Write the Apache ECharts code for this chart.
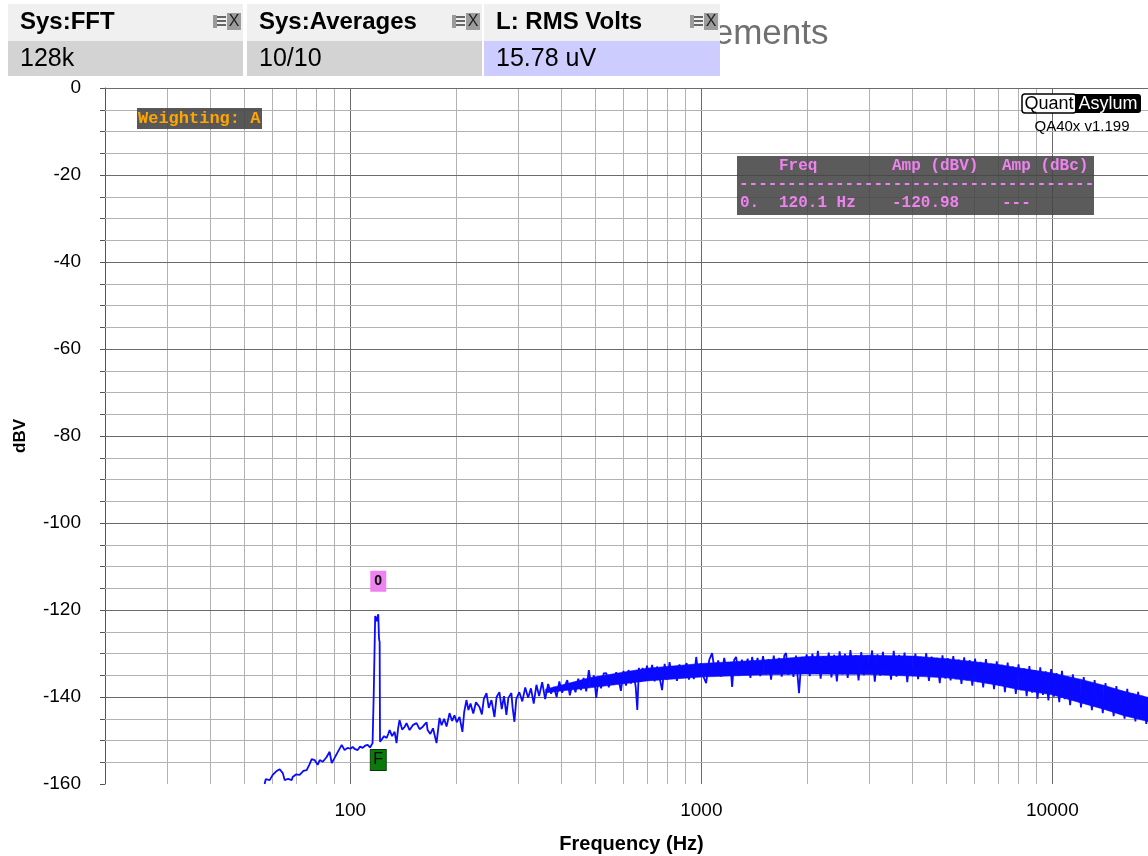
<!DOCTYPE html>
<html>
<head>
<meta charset="utf-8">
<script src="https://cdn.jsdelivr.net/npm/echarts@6/dist/echarts.min.js"></script>
<style>
html,body{margin:0;padding:0;background:#fff;}
#chart{width:1148px;height:856px;}
</style>
</head>
<body>
<div id="chart"></div>
<script>
// Measurement panels shown above the plot
const headerTitles = ['Sys:FFT', 'Sys:Averages', 'L: RMS Volts'];
const headerValues = ['128k', '10/10', '15.78 uV'];

// Marker 0: the 120 Hz hum component
const peakHz = 120.1;
const peakDb = -120.98;

// Frequency axis decorations
const gridMajorHz = [100, 1000, 10000];
const gridMinorHz = [30, 40, 50, 60, 70, 80, 90, 200, 300, 400, 500, 600, 700, 800, 900,
  2000, 3000, 4000, 5000, 6000, 7000, 8000, 9000, 20000];
const xLabelHz = [100, 1000, 10000];

// Averaged A-weighted FFT spectrum [Hz, dBV]
const spectrum = [
  [57.0,-160.0],[57.4,-158.9],[58.9,-159.1],[60.1,-157.9],[61.7,-157.0],[62.9,-156.6],[64.2,-157.5],
  [65.0,-159.1],[66.5,-158.8],[68.1,-159.1],[68.5,-158.4],[70.0,-157.8],[71.7,-157.9],[73.5,-157.0],
  [75.1,-156.8],[76.5,-155.5],[77.6,-154.3],[79.1,-154.5],[80.7,-155.6],[81.8,-154.5],[83.5,-154.9],
  [85.6,-153.8],[87.3,-152.6],[88.5,-155.2],[90.2,-154.0],[92.3,-152.5],[94.5,-151.0],[96.3,-152.2],
  [98.2,-151.7],[100.0,-151.9],[101.5,-151.5],[103.2,-152.0],[104.9,-152.2],[106.6,-151.4],[108.4,-151.7],
  [110.2,-151.2],[112.0,-151.0],[113.8,-151.6],[115.7,-150.6],[116.4,-150.6],[116.6,-139.2],[117.3,-138.8],
  [117.7,-121.4],[118.8,-122.6],[119.5,-121.6],[120.1,-120.98],[120.7,-126.6],[121.2,-127.4],[121.5,-150.3],
  [122.8,-150.3],[124.8,-149.0],[126.9,-149.4],[128.2,-148.5],[129.4,-147.6],[131.5,-149.0],[133.7,-148.0],
  [135.4,-150.6],[136.8,-147.2],[138.1,-145.3],[140.5,-147.5],[142.7,-146.9],[144.6,-146.0],[147.5,-147.6],
  [151.0,-146.4],[154.4,-146.0],[157.5,-147.4],[160.6,-146.9],[162.8,-146.3],[164.9,-145.8],[166.0,-147.6],
  [169,-148.5],[172,-147.2],[176,-150.6],[179.5,-144.8],[182,-146.5],[185,-145.0],[188,-146.8],
  [191.7,-143.7],[195,-145.5],[198,-144.2],[201,-145.8],[204.7,-144.6],[208.6,-148.0],[211,-143.5],
  [214.2,-140.7],[217,-143.0],[220,-141.5],[224,-143.8],[228,-141.2],[233.3,-142.3],[237,-144.0],
  [240,-140.5],[244.3,-139.1],[248,-142.5],[252.4,-140.7],[257.4,-144.6],[261,-140.0],[265.9,-138.9],
  [270,-142.8],[274,-139.8],[278.4,-144.1],[282,-140.2],[287.6,-139.1],[290,-142.5],[293.4,-145.7],
  [297,-140.5],
  [303,-138.9],[309,-141.0],[315,-137.8],[321,-140.2],[327,-138.0],[333,-141.5],[339,-137.2],[345,-139.8],
  [352,-136.6],[359,-140.5],[366,-137.0],[373,-139.2],[380,-137.7],[387,-140.0],[394,-136.4],[401,-139.0],
  [408,-137.5],[415,-136.1],[422,-139.6],[430,-136.8],[438,-138.9],[446,-135.8],[454,-138.4],[462,-135.6],
  [470,-138.7],[478,-133.8],[486,-137.5],[494,-135.0],[502,-140.2],[510,-135.2],[518,-138.0],[527,-134.6],
  [536,-134.5],[545,-137.8],[554,-134.9],[563,-137.2],[572,-134.3],[581,-136.1],[590,-138.6],[600,-134.0],
  [610,-137.4],[620,-133.8],[630,-136.9],[640,-134.2],[650,-137.6],[657,-143.0],[664,-133.3],[672,-136.5],
  [680,-133.3],[690,-136.2],[700,-132.8],
  [712,-135.8],[724,-132.6],[736,-136.4],[748,-133.0],[760,-135.5],[773,-138.4],[786,-132.4],[799,-136.0],
  [812,-132.0],[825,-135.7],[838,-133.1],[852,-136.3],[866,-132.5],[880,-135.4],[894,-133.6],[908,-132.2],
  [922,-136.0],[937,-132.8],[952,-135.9],[967,-130.8],[982,-135.2],[997,-132.3],
  [1010,-135.0],[1032,-136.8],[1053,-131.5],[1073,-129.9],[1095,-134.8],[1117,-131.6],[1139,-135.3],
  [1162,-131.0],[1185,-134.6],[1208,-132.0],[1224,-137.7],[1240,-131.5],[1256,-130.8],[1280,-135.1],
  [1305,-131.4],[1330,-134.9],[1355,-131.2],[1380,-135.6],[1395,-130.8],[1420,-134.3],[1446,-131.0],
  [1472,-135.2],[1499,-130.6],[1526,-134.8],[1553,-131.3],[1580,-136.0],[1608,-130.5],[1636,-134.6],
  [1665,-131.0],[1694,-135.3],[1724,-130.4],[1743,-129.9],[1770,-134.9],[1800,-131.1],[1830,-135.4],
  [1860,-130.5],[1898,-139.1],[1930,-130.8],[1962,-134.7],[1995,-130.2],
  [2036,-135.2],[2072,-130.0],[2110,-134.6],[2148,-129.4],[2187,-135.8],[2226,-130.6],[2266,-134.1],
  [2307,-129.8],[2348,-135.5],[2390,-130.3],[2433,-136.4],[2477,-129.5],[2521,-134.8],[2566,-130.1],
  [2612,-135.6],[2659,-129.2],[2707,-134.3],[2756,-130.4],[2805,-136.2],[2855,-129.7],[2906,-135.0],
  [2958,-130.5],[3011,-134.6],[3065,-129.3],[3120,-136.5],[3176,-130.2],[3233,-135.1],[3291,-129.6],
  [3350,-134.9],[3410,-130.7],[3471,-136.0],[3533,-129.4],[3596,-135.3],[3660,-130.3],[3726,-134.7],
  [3793,-129.8],[3861,-136.6],[3930,-130.6],[4000,-135.2],[4072,-130.0],[4145,-135.9],[4219,-130.8],
  [4295,-134.8],[4372,-129.9],[4450,-136.3],[4530,-130.7],[4611,-135.4],[4694,-131.0],[4778,-136.8],
  [4864,-130.4],[4951,-135.7],[5040,-131.1],
  [5130,-136.2],[5222,-130.6],[5316,-135.9],[5412,-131.4],[5509,-137.0],[5608,-130.9],[5709,-136.1],
  [5812,-131.5],[5917,-137.4],[6023,-131.2],[6131,-136.6],[6241,-131.9],[6353,-137.8],[6467,-131.3],
  [6583,-136.9],[6701,-132.4],[6822,-138.2],[6945,-131.8],[7070,-137.4],[7197,-132.6],[7327,-138.9],
  [7459,-132.1],[7593,-137.9],[7730,-133.0],[7869,-139.3],[8010,-132.5],[8154,-138.4],[8301,-133.4],
  [8450,-139.8],[8602,-132.9],[8757,-139.0],[8915,-133.8],[9075,-140.4],[9238,-133.2],[9404,-139.5],
  [9573,-134.1],[9745,-140.8],[9920,-133.6],[10100,-139.9],
  [10280,-134.5],[10465,-141.2],[10653,-134.0],[10845,-140.5],[11040,-135.3],[11239,-141.9],[11441,-134.8],
  [11647,-140.9],[11857,-136.0],[12070,-142.4],[12287,-135.4],[12508,-141.6],[12733,-136.6],[12962,-143.0],
  [13195,-136.1],[13433,-142.2],[13675,-137.3],[13921,-143.7],[14172,-136.8],[14427,-143.0],[14687,-138.0],
  [14951,-144.4],[15220,-137.5],[15494,-143.6],[15773,-138.6],[16057,-145.0],[16346,-138.1],[16640,-144.2],
  [16940,-139.2],[17245,-145.6],[17555,-138.8],[17871,-144.9],[18193,-139.9],[18520,-146.2],[18853,-139.4],
  [19192,-145.5],[19538,-140.4],[19890,-146.6],[20000,-141.0]
];

// Dense core of the averaged noise floor (lower / upper edge)
const bandHz   = [360, 480, 700, 1000, 1500, 2000, 3000, 4000, 5000, 6000, 7000, 8000, 10000, 12000, 14000, 16000, 18000, 20000];
const bandLow  = [-139.0, -137.9, -136.3, -135.4, -134.9, -134.7, -134.8, -135.2, -135.6, -136.4, -137.3, -138.3, -139.5, -141.3, -142.8, -144.3, -145.3, -146.2];
const bandHigh = [-138.2, -135.6, -133.4, -132.3, -131.5, -130.7, -130.4, -130.6, -131.2, -131.9, -132.5, -133.3, -134.5, -135.9, -137.3, -138.7, -139.7, -140.8];

const FONT = '"Liberation Sans", Arial, sans-serif';
const MONO = '"Liberation Mono", "DejaVu Sans Mono", monospace';
const TRACE = '#0a0aff';
const MINOR = '#b2b2b2';
const MAJOR = '#6a6a6a';

// ---- grid lines drawn as mark lines on the axes ----
const gridLines = [];
gridMinorHz.forEach(f => gridLines.push({ xAxis: f, lineStyle: { color: MINOR, width: 1, type: 'solid' } }));
gridMajorHz.forEach(f => gridLines.push({ xAxis: f, lineStyle: { color: MAJOR, width: 1, type: 'solid' } }));
for (let v = -155; v <= 0; v += 5) {
  const major = v % 20 === 0;
  gridLines.push({ yAxis: v, lineStyle: { color: major ? MAJOR : MINOR, width: 1, type: 'solid' } });
}
// short ticks under the frequency axis
gridMinorHz.forEach(f => gridLines.push([
  { coord: [f, -160], lineStyle: { color: MAJOR, width: 1, type: 'solid' } },
  { coord: [f, -160.9] }
]));

// ---- panels and annotations ----
const graphic = [];
graphic.push({
  type: 'text', left: 597, top: 17, z: 1,
  style: { text: 'Measurements', font: '35px ' + FONT, fill: '#707070' }
});
const boxX = [8, 247, 484];
const boxW = [235, 235, 236];
headerTitles.forEach((t, i) => {
  const x = boxX[i], w = boxW[i], r = x + w;
  graphic.push({ type: 'rect', z: 5, shape: { x: x, y: 4, width: w, height: 37 }, style: { fill: '#f0f0f0' } });
  graphic.push({ type: 'rect', z: 5, shape: { x: x, y: 41, width: w, height: 35 }, style: { fill: i === 2 ? '#ccccff' : '#d3d3d3' } });
  graphic.push({ type: 'text', z: 6, x: x + 12, y: 22, style: { text: t, font: 'bold 24px ' + FONT, fill: '#000', textVerticalAlign: 'middle' } });
  graphic.push({ type: 'text', z: 6, x: x + 12, y: 59, style: { text: headerValues[i], font: '25px ' + FONT, fill: '#000', textVerticalAlign: 'middle' } });
  // list / close icons
  graphic.push({ type: 'rect', z: 6, shape: { x: r - 30, y: 15, width: 4, height: 13 }, style: { fill: '#9a9a9a' } });
  [16, 20, 24].forEach(yy => graphic.push({ type: 'rect', z: 6, shape: { x: r - 26, y: yy, width: 9, height: 2 }, style: { fill: '#666' } }));
  graphic.push({ type: 'rect', z: 6, shape: { x: r - 16, y: 13, width: 14, height: 17 }, style: { fill: '#9c9c9c' } });
  graphic.push({ type: 'text', z: 7, x: r - 9, y: 22, style: { text: 'X', font: '16px ' + FONT, fill: '#222', textAlign: 'center', textVerticalAlign: 'middle' } });
});

// weighting badge
graphic.push({ type: 'rect', z: 10, shape: { x: 137, y: 108, width: 125, height: 21 }, style: { fill: 'rgba(70,70,70,0.9)' } });
graphic.push({ type: 'text', z: 11, x: 138, y: 119, style: { text: 'Weighting: A', font: 'bold 17px ' + MONO, fill: '#ffa500', textVerticalAlign: 'middle' } });

// brand logo
graphic.push({ type: 'rect', z: 10, shape: { x: 1022, y: 94, width: 54, height: 19, r: 3 }, style: { fill: '#fff', stroke: '#000', lineWidth: 1.5 } });
graphic.push({ type: 'rect', z: 10, shape: { x: 1075, y: 94, width: 66, height: 19, r: [0, 3, 3, 0] }, style: { fill: '#000' } });
graphic.push({ type: 'text', z: 11, x: 1049, y: 104, style: { text: 'Quant', font: '18px ' + FONT, fill: '#000', textAlign: 'center', textVerticalAlign: 'middle' } });
graphic.push({ type: 'text', z: 11, x: 1108, y: 104, style: { text: 'Asylum', font: '18px ' + FONT, fill: '#fff', textAlign: 'center', textVerticalAlign: 'middle' } });
graphic.push({ type: 'text', z: 11, x: 1082, y: 127, style: { text: 'QA40x v1.199', font: '15px ' + FONT, fill: '#000', textAlign: 'center', textVerticalAlign: 'middle' } });

// marker readout table
const TBL = '#ee82ee';
graphic.push({ type: 'rect', z: 10, shape: { x: 737, y: 156, width: 357, height: 59 }, style: { fill: 'rgba(68,68,68,0.88)' } });
const tableCells = [
  ['Freq', 779, 166], ['Amp (dBV)', 892, 166], ['Amp (dBc)', 1002, 166],
  ['-'.repeat(37), 739, 184],
  ['0.', 740, 203], [peakHz.toFixed(1) + ' Hz', 779, 203], [peakDb.toFixed(2), 892, 203], ['---', 1002, 203]
];
tableCells.forEach(c => graphic.push({
  type: 'text', z: 11, x: c[1], y: c[2],
  style: { text: c[0], font: 'bold 16px ' + MONO, fill: TBL, textVerticalAlign: 'middle' }
}));

// filled core of the noise floor, one quad per envelope segment
const bandSegments = bandHz.slice(0, -1).map((f, i) =>
  [f, bandLow[i], bandHigh[i], bandHz[i + 1], bandLow[i + 1], bandHigh[i + 1]]);

const option = {
  animation: false,
  backgroundColor: '#fff',
  grid: { left: 105, top: 88, width: 1053, height: 696, outerBoundsMode: 'none', containLabel: false },
  xAxis: {
    type: 'log', logBase: 10, min: 20, max: 20000,
    name: 'Frequency (Hz)', nameLocation: 'middle', nameGap: 50,
    nameTextStyle: { fontFamily: FONT, fontWeight: 'bold', fontSize: 20, color: '#000' },
    axisLine: { lineStyle: { color: '#555', width: 1 } },
    axisTick: { show: true, length: 4, lineStyle: { color: '#555' } },
    axisLabel: {
      fontFamily: FONT, fontSize: 19, color: '#000', margin: 17,
      formatter: v => xLabelHz.indexOf(Math.round(v)) >= 0 ? String(Math.round(v)) : ''
    },
    splitLine: { show: false }
  },
  yAxis: {
    type: 'value', min: -160, max: 0, interval: 5,
    name: 'dBV', nameLocation: 'middle', nameGap: 76, nameRotate: 90,
    nameTextStyle: { fontFamily: FONT, fontWeight: 'bold', fontSize: 17, color: '#000' },
    axisLine: { show: true, lineStyle: { color: '#555', width: 1 } },
    axisTick: { show: true, length: 5, lineStyle: { color: '#555' } },
    axisLabel: {
      fontFamily: FONT, fontSize: 19, color: '#000', margin: 24,
      formatter: v => (v % 20 === 0 ? String(v) : '')
    },
    splitLine: { show: false }
  },
  graphic: graphic,
  series: [
    {
      name: 'band', type: 'custom', z: 2,
      data: bandSegments,
      encode: { x: [0, 3], y: [1, 2, 4, 5] },
      renderItem: (params, api) => {
        const a = api.coord([api.value(0), api.value(2)]);
        const b = api.coord([api.value(3), api.value(5)]);
        const c = api.coord([api.value(3), api.value(4)]);
        const d = api.coord([api.value(0), api.value(1)]);
        return {
          type: 'polygon',
          shape: { points: [a, b, c, d] },
          style: { fill: TRACE, stroke: TRACE, lineWidth: 0.6 }
        };
      }
    },
    {
      name: 'spectrum', type: 'line', z: 3, clip: false,
      data: spectrum, symbol: 'none', showSymbol: false,
      lineStyle: { color: TRACE, width: 1.8 },
      markLine: {
        silent: true, z: 1, symbol: ['none', 'none'], animation: false,
        label: { show: false }, emphasis: { disabled: true },
        data: gridLines
      },
      markPoint: {
        silent: true, animation: false,
        data: [
          {
            coord: [peakHz, peakDb], symbol: 'rect', symbolSize: [16, 21], symbolOffset: [0, -33],
            itemStyle: { color: '#ee82ee' },
            label: { show: true, position: 'inside', formatter: '0', color: '#000', fontWeight: 'bold', fontSize: 14, fontFamily: FONT }
          },
          {
            coord: [peakHz, -160], symbol: 'rect', symbolSize: [16, 21], symbolOffset: [0, -24],
            itemStyle: { color: '#0b7a0b', borderColor: '#063806', borderWidth: 1 },
            label: { show: true, position: 'inside', formatter: 'F', color: '#000', fontSize: 16, fontFamily: FONT }
          }
        ]
      }
    }
  ]
};

const chart = echarts.init(document.getElementById('chart'), null, { renderer: 'canvas' });
chart.setOption(option);
</script>
</body>
</html>
